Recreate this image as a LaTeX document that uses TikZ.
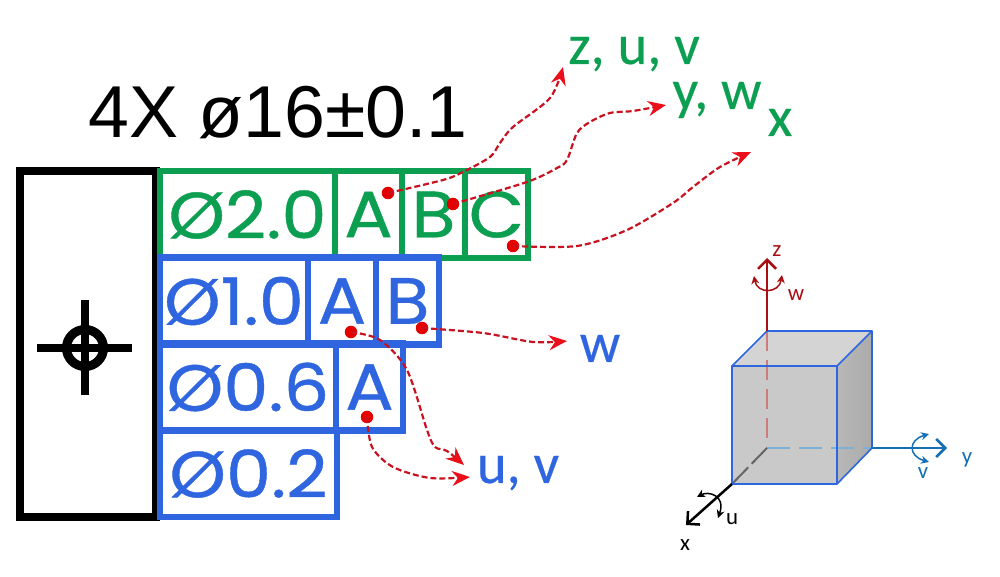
\documentclass[tikz,border=0pt]{standalone}
\usepackage{fontspec}
\setmainfont{Liberation Sans}
\newfontfamily\gdtfont[FakeStretch=1.1,FakeBold=.6]{Poppins}
\newfontfamily\lblfont[FakeBold=.4]{Carlito}
\newfontfamily\axisfont{Carlito}
\usetikzlibrary{arrows.meta}
\definecolor{gdtgreen}{HTML}{0C9F52}
\definecolor{gdtblue}{HTML}{2F66E0}
\definecolor{flowred}{HTML}{C8121F}
\definecolor{tipred}{HTML}{EA0F1A}
\definecolor{axisred}{HTML}{A80F12}
\definecolor{axisblue}{HTML}{1470B2}
\tikzset{cell/.style={draw, line width=.065cm, inner sep=0pt, minimum height=.87cm, font=\gdtfont\fontsize{18.6}{20}\selectfont},
	green_cell/.style={cell, draw=gdtgreen, text=gdtgreen},
	blue_cell/.style={cell, draw=gdtblue, text=gdtblue},
	red_dot/.style={circle, fill=red!90!black, inner sep=0pt, minimum size=.125cm},
	flow/.style={flowred, line width=.022cm, dash pattern=on .06cm off .03cm, -{Stealth[length=.18cm, width=.15cm, color=tipred, fill=tipred]}},
	big_label/.style={anchor=base, font=\lblfont\fontsize{16.1}{17}\selectfont},
	small_label/.style={anchor=base, font=\axisfont\fontsize{6.5}{7}\selectfont},
	axis_tip/.style={-{Straight Barb[length=.09cm, width=.18cm]}},
	turn_tip/.style={{Stealth[length=.08cm, width=.08cm]}-{Stealth[length=.08cm, width=.08cm]}}
}
\begin{document}
\begin{tikzpicture}[x=.01cm, y=-.01cm]
	\useasboundingbox (0,0) rectangle (1000,577);
	\node[anchor=base, font=\fontsize{20.9}{24}\selectfont] (title) at (278,138) {4X ø16±0.1};

	% feature control frame
	\node[draw, line width=.08cm, minimum width=1.36cm, minimum height=3.46cm, inner sep=0pt] (symbol) at (88,344) {};
	\node[green_cell, minimum width=1.75cm] (g0) at (247.5,214.5) {Ø2.0};
	\node[green_cell, minimum width=.67cm] (g1) at (368.5,214.5) {A};
	\node[green_cell, minimum width=.63cm] (g2) at (433.5,214.5) {B};
	\node[green_cell, minimum width=.63cm] (g3) at (496.5,214.5) {C};
	\node[blue_cell, minimum width=1.48cm] (b0) at (234,301) {Ø1.0};
	\node[blue_cell, minimum width=.68cm] (b1) at (342,301) {A};
	\node[blue_cell, minimum width=.63cm] (b2) at (407.5,301) {B};
	\node[blue_cell, minimum width=1.76cm] (c0) at (248,387) {Ø0.6};
	\node[blue_cell, minimum width=.67cm] (c1) at (369.5,387) {A};
	\node[blue_cell, minimum width=1.77cm] (d0) at (248.5,473.5) {Ø0.2};

	% position symbol
	\node[draw, circle, line width=.09cm, minimum size=.37cm, inner sep=0pt] (ring) at (85,348) {};
	\draw[line width=.085cm] (37,348) -- (132,348);
	\draw[line width=.085cm] (85,300) -- (85,395);

	% labels
	\node[big_label, text=gdtgreen] (zuv) at (634,64) {z, u, v};
	\node[big_label, text=gdtgreen] (yw) at (717,109) {y, w};
	\node[big_label, text=gdtgreen] (xg) at (780,136) {x};
	\node[big_label, text=gdtblue] (wb) at (600,362) {w};
	\node[big_label, text=gdtblue] (uv) at (518,483) {u, v};

	% dots and arrow ends
	\node[red_dot] (dotA) at (388,193) {};
	\node[red_dot] (dotB) at (453,204) {};
	\node[red_dot] (dotC) at (513,246) {};
	\node[red_dot] (dotD) at (422,328) {};
	\node[red_dot] (dotE) at (351,332) {};
	\node[red_dot] (dotF) at (367,417) {};
	\coordinate (endA) at (563,67);
	\coordinate (endB) at (666,105);
	\coordinate (endC) at (751,152);
	\coordinate (endD) at (567,341);
	\coordinate (endE) at (464,465);
	\coordinate (endF) at (470,477);

	% draw lines
	\draw[flow] plot[smooth, tension=.5] coordinates {(dotA) (443,180) (463,172) (490,157) (500,143) (513,127) (550,98) (endA)};
	\draw[flow] plot[smooth, tension=.5] coordinates {(dotB) (527,182) (557,168) (567,160) (577,133) (590,122) (610,113) (633,111) (endB)};
	\draw[flow] plot[smooth, tension=.5] coordinates {(dotC) (577,246) (627,230) (673,203) (693,187) (720,167) (endC)};
	\draw[flow] plot[smooth, tension=.5] coordinates {(dotD) (483,333) (533,342) (endD)};
	\draw[flow] plot[smooth, tension=.5] coordinates {(dotE) (380,340) (407,370) (427,430) (435,447) (447,451) (endE)};
	\draw[flow] plot[smooth, tension=.5] coordinates {(dotF) (372,447) (393,467) (430,478) (endF)};

	% cube corners
	\coordinate (fa) at (732,366);
	\coordinate (fb) at (837,366);
	\coordinate (fc) at (837,484);
	\coordinate (fd) at (732,484);
	\coordinate (ba) at (767,331);
	\coordinate (bb) at (872,331);
	\coordinate (bc) at (872,448);
	\coordinate (o) at (767,448);
	\coordinate (zend) at (767,258);
	\coordinate (yend) at (947,448);
	\coordinate (xend) at (686,525);

	\fill[black!21] (fa) -- (fb) -- (fc) -- (fd) -- cycle;
	\fill[black!17] (fa) -- (ba) -- (bb) -- (fb) -- cycle;
	\fill[left color=black!28, right color=black!33] (fb) -- (bb) -- (bc) -- (fc) -- cycle;

	% hidden axes
	\draw[axisred!55!white, line width=.02cm, dash pattern=on .2cm off .09cm] (ba) -- (o);
	\draw[axisblue!55!white, line width=.02cm, dash pattern=on .23cm off .09cm] (o) -- (bc);
	\draw[black!60, line width=.02cm, dash pattern=on .22cm off .05cm] (o) -- (fd);

	\draw[gdtblue, line width=.016cm, line join=round] (fa) -- (fb) -- (fc) -- (fd) -- cycle;
	\draw[gdtblue, line width=.016cm, line join=round] (fa) -- (ba) -- (bb) -- (fb);
	\draw[gdtblue, line width=.016cm, line join=round] (bb) -- (bc) -- (fc);

	% axes
	\draw[axis_tip, axisred, line width=.025cm] (ba) -- (zend);
	\draw[axis_tip, axisblue, line width=.025cm] (bc) -- (yend);
	\draw[axis_tip, black, line width=.025cm] (fd) -- (xend);
	\draw[turn_tip, axisred, line width=.015cm] (754,276) .. controls (757,294) and (779,294) .. (782,275);
	\draw[turn_tip, axisblue, line width=.015cm] (929,434) .. controls (908,440) and (908,456) .. (929,462);
	\draw[turn_tip, black, line width=.015cm] (697,497) .. controls (708,491) and (726,495) .. (718,518);

	\node[small_label, text=axisred] (zl) at (777,257) {z};
	\node[small_label, text=axisred] (wl) at (796,301) {w};
	\node[small_label, text=axisblue] (yl) at (967,464) {y};
	\node[small_label, text=axisblue] (vl) at (923,479) {v};
	\node[small_label, text=black] (ul) at (732,525) {u};
	\node[small_label, text=black] (xl) at (685,551) {x};
\end{tikzpicture}
\end{document}
